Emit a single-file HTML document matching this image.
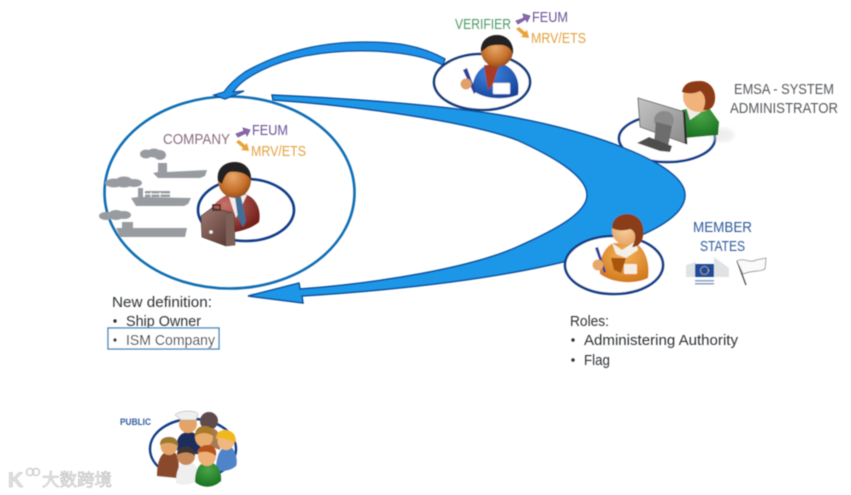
<!DOCTYPE html>
<html><head><meta charset="utf-8"><style>
html,body{margin:0;padding:0;background:#fff;width:851px;height:495px;overflow:hidden}
svg{display:block;font-family:"Liberation Sans","Noto Sans CJK SC",sans-serif}
text{font-size:15px}
</style></head><body>
<svg width="851" height="495" viewBox="0 0 851 495" xmlns="http://www.w3.org/2000/svg">
<defs>
<radialGradient id="skin" cx=".45" cy=".4" r=".7"><stop offset="0" stop-color="#e8a868"/><stop offset=".6" stop-color="#c56f2b"/><stop offset="1" stop-color="#7c3f14"/></radialGradient>
<radialGradient id="skinL" cx=".45" cy=".45" r=".7"><stop offset="0" stop-color="#f8cfa0"/><stop offset="1" stop-color="#e29a58"/></radialGradient>
<radialGradient id="blue" cx=".4" cy=".3" r=".8"><stop offset="0" stop-color="#3f86e0"/><stop offset="1" stop-color="#123f96"/></radialGradient>
<radialGradient id="maroon" cx=".35" cy=".3" r=".8"><stop offset="0" stop-color="#c8736a"/><stop offset="1" stop-color="#6a1412"/></radialGradient>
<radialGradient id="green" cx=".5" cy=".3" r=".8"><stop offset="0" stop-color="#4aa648"/><stop offset="1" stop-color="#146b1c"/></radialGradient>
<radialGradient id="orange" cx=".5" cy=".3" r=".8"><stop offset="0" stop-color="#f4b25a"/><stop offset="1" stop-color="#cf7212"/></radialGradient>
<linearGradient id="case" x1="0" y1="0" x2="1" y2="1"><stop offset="0" stop-color="#a07a72"/><stop offset="1" stop-color="#4f3029"/></linearGradient>
<linearGradient id="screen" x1="0" y1="0" x2="1" y2="1"><stop offset="0" stop-color="#c4c4c4"/><stop offset="1" stop-color="#8a8a8a"/></linearGradient>
<filter id="s"><feGaussianBlur stdDeviation=".4"/></filter>
<filter id="b2"><feGaussianBlur stdDeviation="2"/></filter>
</defs>
<rect width="851" height="495" fill="#fff"/>
<g filter="url(#s)">

<!-- ellipses -->
<ellipse cx="229.500" cy="192.500" rx="125" ry="96" fill="none" stroke="#0f6db4" stroke-width="2.600"/>
<ellipse cx="246" cy="210" rx="48" ry="31" fill="none" stroke="#103a86" stroke-width="2.600"/>

<!-- verifier arrow -->
<path d="M445 59 C420 45 395 42 365 42 C320 42 280 52 245 72 C235 79 228 86 224 92 L214 95 L225 99 L244 91 L233 92 C240 82 250 76 262 70 C295 54 335 50 372 51 C400 52 425 56 443 65 Z" fill="#1c90e6" stroke="#0d4f9f" stroke-width="1.300"/>
<ellipse cx="482" cy="82" rx="48" ry="28" fill="#fff" stroke="#103a7c" stroke-width="2.600"/>
<ellipse cx="667" cy="138.500" rx="48" ry="23.500" fill="#fff" stroke="#103a86" stroke-width="2.600"/>

<!-- large crescent arrow -->
<path d="M272 95 C340 98 450 105 517 118 C600 134 685 165 685 195 C685 220 640 240 563 262 C480 282 380 291 302 296 L303 303 L248 296 L299 283 L300 289 C380 283 470 268 517 247 C560 228 587 212 587 195 C587 175 550 155 517 140 C470 122 360 106 273 100 Z" fill="#1b97e8" stroke="#0d4f9f" stroke-width="1.500" stroke-linejoin="miter"/>

<ellipse cx="614" cy="265" rx="49" ry="29" fill="#fff" stroke="#103a86" stroke-width="2.600"/>

<!-- company labels -->
<text x="163" y="144" fill="#8a6c7e" textLength="67" lengthAdjust="spacingAndGlyphs">COMPANY</text>
<text x="252" y="135" fill="#6a5296" textLength="36" lengthAdjust="spacingAndGlyphs">FEUM</text>
<text x="251" y="156" fill="#e2a140" textLength="55" lengthAdjust="spacingAndGlyphs">MRV/ETS</text>
<path d="M236 134 L244 131 L243 128 L250 130 L247 136 L246 133 L238 137 Z" fill="#8d69ab" stroke="#6a5296" stroke-width=".8"/>
<path d="M236 142 L239 140 L245 145 L247 143 L249 151 L241 150 L243 148 Z" fill="#e8a33c"/>

<!-- ships -->
<g fill="#989ca1">
<path d="M158 172 L158 163 L167 163 L167 172 L207 170 L205 176 L200 178 L158 178 L153 173 Z"/>
<ellipse cx="146" cy="154" rx="6" ry="4.500"/><ellipse cx="154" cy="153" rx="7" ry="4.500"/><ellipse cx="160" cy="155" rx="6" ry="5"/>
<path d="M138 197 L138 188 L143 188 L143 197 L191 198 L188 204 L184 206 L136 206 L131 198 Z"/>
<path d="M145 191 L170 191 L170 197 L145 197 Z"/>
<ellipse cx="114" cy="183" rx="9" ry="4.500"/><ellipse cx="124" cy="182" rx="9" ry="5.500"/><ellipse cx="134" cy="183" rx="8" ry="4"/>
<path d="M122 228 L122 222 L133 222 L133 228 L187 228 L185 237 L120 237 L116 228 Z"/>
<ellipse cx="106" cy="216" rx="7" ry="4"/><ellipse cx="116" cy="215" rx="8" ry="5"/><ellipse cx="124" cy="215" rx="7" ry="4"/>
</g>
<path d="M151 192V197M160 192V197M143 194H170" stroke="#fff" stroke-width=".9"/>

<!-- company person -->
<path d="M206 232 C204 208 222 193 238 193 C254 193 262 208 259 222 C250 230 228 236 206 232Z" fill="url(#maroon)"/>
<path d="M228 194 L236 218 L247 195 Z" fill="#f3ecea"/>
<path d="M235 197 L241 197 L246 221 L243 227 L238 218 Z" fill="#3f6f98"/>
<ellipse cx="234.500" cy="180" rx="16.500" ry="18" fill="url(#skin)"/>
<path d="M218 181 C216 168 225 162 235 162 C245 162 252 170 251 180 C247 173 238 171 230 172 C226 173 224 178 222 184 Z" fill="#222"/>
<path d="M201 216 L212 208 L234 213 L235 245 L226 246 L202 237 Z" fill="url(#case)" stroke="#3b2620" stroke-width=".6"/>
<path d="M226 215 L234 212 L235 245 L226 246 Z" fill="#7d6059"/>
<circle cx="211" cy="232" r="1.800" fill="#f0f0f0"/>
<rect x="213" y="205" width="7" height="5" fill="none" stroke="#3b2620" stroke-width="1.500"/>

<!-- verifier labels -->
<text x="455" y="29" fill="#4f9a64" textLength="56" lengthAdjust="spacingAndGlyphs">VERIFIER</text>
<text x="532" y="22" fill="#6a5296" textLength="36" lengthAdjust="spacingAndGlyphs">FEUM</text>
<text x="531" y="43" fill="#e2a140" textLength="55" lengthAdjust="spacingAndGlyphs">MRV/ETS</text>
<path d="M516 21 L524 18 L523 14 L530 16 L527 22 L526 19 L518 24 Z" fill="#8d69ab" stroke="#6a5296" stroke-width=".8"/>
<path d="M516 29 L519 27 L525 32 L527 30 L529 38 L521 37 L523 35 Z" fill="#e8a33c"/>

<!-- verifier person -->
<path d="M472 90 C473 72 484 63 497 63 C512 64 521 78 518 95 C505 100 485 100 472 90Z" fill="url(#blue)"/>
<path d="M484 65 L488 90 L493 84 L499 65 Z" fill="#a93a22"/>
<rect x="493" y="83" width="17" height="11" rx="1" fill="#fff" stroke="#ccd" stroke-width=".5"/>
<ellipse cx="497" cy="51" rx="16" ry="16" fill="url(#skin)"/>
<path d="M481 52 C480 41 488 35 497 35 C508 35 514 44 513 54 C510 47 505 44 497 45 C491 45 488 46 485 49 Z" fill="#222"/>
<path d="M463 70 L467 68 L476 92 L474 94 Z" fill="#2f3f9a"/>
<circle cx="466" cy="84" r="5.500" fill="#e0a068"/>

<!-- EMSA -->
<text x="734" y="94" fill="#55585c" textLength="100" lengthAdjust="spacingAndGlyphs">EMSA - SYSTEM</text>
<text x="730" y="113" fill="#55585c" textLength="108" lengthAdjust="spacingAndGlyphs">ADMINISTRATOR</text>
<ellipse cx="722" cy="135" rx="12" ry="7" fill="#ddd" opacity=".5" filter="url(#b2)"/>
<path d="M682 110 L707 105 L719 122 L718 135 L685 138 Z" fill="url(#green)"/>
<path d="M686 107 L706 106 L700 113 L690 120 Z" fill="#f0ede6"/>
<ellipse cx="699" cy="97" rx="16" ry="15" fill="#f2b27c"/>
<path d="M682 92 C684 82 692 81 701 81 C712 82 716 92 715 100 C714 108 709 111 703 110 C707 102 705 94 700 91 C694 94 688 94 682 92 Z" fill="#8c3a14"/>
<path d="M638 98 L685 112 L687 144 L640 127 Z" fill="url(#screen)" stroke="#555" stroke-width=".8"/>
<path d="M685 112 L687 144 L685 144 L683 111 Z" fill="#222"/>
<ellipse cx="664" cy="120" rx="10" ry="9" fill="#8b8b8b"/>
<path d="M656 122 L672 126 L668 147 L654 142 Z" fill="#6d6d6d"/>
<path d="M637 143 L649 137 L672 146 L670 152 L660 151 Z" fill="#4d4d4d"/>

<!-- member person -->
<path d="M600 274 C598 256 607 245 614 243 L636 243 C646 250 650 264 648 278 C634 285 612 283 600 274Z" fill="url(#orange)"/>
<path d="M612 243 L622 250 L636 241 L638 250 L626 258 L616 254 Z" fill="#f4f0e8"/>
<path d="M611 258 L626 258 L621 273 L614 270 Z" fill="#a8560f"/>
<rect x="624" y="264" width="13" height="10" rx="1" fill="#f6ece0"/>
<ellipse cx="626" cy="231" rx="14" ry="14" fill="url(#skinL)"/>
<path d="M612 228 C612 218 620 214 628 214 C640 215 645 225 643 236 C642 243 638 247 632 247 C637 238 636 231 630 229 C624 231 618 231 612 228 Z" fill="#8a3c14"/>
<path d="M595 248 L598 247 L606 272 L604 273 Z" fill="#2f3f9a"/>
<circle cx="598" cy="265" r="5.500" fill="#e8a868"/>

<!-- Member states -->
<text x="693" y="232" fill="#2f5a9c" textLength="59" lengthAdjust="spacingAndGlyphs">MEMBER</text>
<text x="700" y="251" fill="#2f5a9c" textLength="45" lengthAdjust="spacingAndGlyphs">STATES</text>
<path d="M686 265 L696 262 L696 277 L686 277 Z M714 257 L729 268 L729 277 L714 277Z" fill="#dfe3e6"/>
<rect x="695" y="264" width="19" height="13" fill="#1f4e9c"/>
<circle cx="704.500" cy="270.500" r="4" fill="none" stroke="#e8d060" stroke-width="1" stroke-dasharray="1 1"/>
<rect x="695" y="280" width="19" height="1.500" fill="#8aa0c4"/><rect x="695" y="283" width="19" height="1.500" fill="#8aa0c4"/>
<path d="M737 261 L746 285" stroke="#444" stroke-width="1.200"/>
<path d="M737 261 C744 257 750 264 756 260 L766 258 L765 269 C760 272 752 270 743 274 Z" fill="#fafafa" stroke="#8b8b8b" stroke-width=".8"/>

<!-- text lists -->
<text x="112" y="307" fill="#2e3236" textLength="100" lengthAdjust="spacingAndGlyphs">New definition:</text>
<circle cx="115" cy="321" r="1.700" fill="#2e3236"/>
<text x="126" y="326" fill="#2e3236" textLength="75" lengthAdjust="spacingAndGlyphs">Ship Owner</text>
<rect x="108" y="328" width="111" height="21" fill="#fff" stroke="#2f80bb" stroke-width="1.300"/>
<circle cx="115" cy="340" r="1.700" fill="#2e3236"/>
<text x="126" y="345" fill="#2e3236" textLength="89" lengthAdjust="spacingAndGlyphs">ISM Company</text>
<text x="570" y="326" fill="#2e3236" textLength="39" lengthAdjust="spacingAndGlyphs">Roles:</text>
<circle cx="573" cy="340" r="1.700" fill="#2e3236"/>
<text x="584" y="345" fill="#2e3236" textLength="154" lengthAdjust="spacingAndGlyphs">Administering Authority</text>
<circle cx="573" cy="360" r="1.700" fill="#2e3236"/>
<text x="584" y="365" fill="#2e3236" textLength="26" lengthAdjust="spacingAndGlyphs">Flag</text>

<!-- public -->
<text x="120" y="425" fill="#2f5a9c" font-weight="bold" style="font-size:9px" textLength="31" lengthAdjust="spacingAndGlyphs">PUBLIC</text>
<ellipse cx="193" cy="449" rx="43" ry="30" fill="none" stroke="#103a86" stroke-width="2.400"/>
<path d="M176 450 C176 436 182 432 189 432 C197 432 201 438 201 455 Z" fill="#1f2e5c"/>
<ellipse cx="188" cy="424" rx="9" ry="9" fill="#e4a468"/>
<path d="M175 415 C180 410 196 410 198 414 L196 420 L181 420 Z" fill="#eef0ee" stroke="#999" stroke-width=".5"/>
<ellipse cx="209" cy="421" rx="9" ry="9" fill="#5e4c48"/>
<path d="M198 442 C198 430 206 428 212 428 C220 430 222 440 220 450 Z" fill="#a77a58"/>
<ellipse cx="204" cy="437" rx="9" ry="10" fill="#e8ac6c"/>
<path d="M195 436 C195 428 200 426 205 426 C211 426 214 430 213 436 C208 432 200 432 195 436Z" fill="#a87a2c"/>
<path d="M216 470 C216 450 225 444 230 446 C236 450 238 462 236 466 C230 471 222 472 216 470Z" fill="#4f84c8"/>
<ellipse cx="226" cy="441" rx="8.500" ry="9" fill="#f0b880"/>
<path d="M216 439 C216 431 222 430 226 430 C233 431 236 435 236 442 L220 438 Z" fill="#f0b81c"/>
<path d="M157 476 C157 456 164 451 170 451 C178 451 180 460 178 478 Z" fill="#8a4a2c"/>
<ellipse cx="169" cy="446" rx="8.500" ry="9" fill="#e4a468"/>
<path d="M160 445 C160 438 165 437 170 437 C175 437 178 440 178 446 C172 442 166 442 160 445Z" fill="#9c7a30"/>
<path d="M176 483 C176 466 182 462 187 462 C197 462 199 470 198 480 C192 485 182 486 176 483Z" fill="#efefef"/>
<ellipse cx="186" cy="456" rx="9" ry="9" fill="#c98a5a"/>
<path d="M177 455 C177 448 182 447 186 447 C192 447 195 450 195 456 C190 451 182 452 177 455Z" fill="#3f3532"/>
<path d="M195 482 C195 466 202 462 208 462 C216 462 222 470 221 481 C212 489 202 488 195 482Z" fill="url(#green)"/>
<ellipse cx="207" cy="456" rx="9" ry="10" fill="#efb078"/>
<path d="M197 453 C198 447 203 445 208 445 C214 445 217 450 216 456 C210 451 204 451 197 453Z" fill="#b4521c"/>

<!-- watermark -->
<text x="8" y="487" fill="#e0e0e0" stroke="#bdbdbd" stroke-width=".5" style="font-size:21px;font-weight:bold">K</text>
<circle cx="30" cy="472" r="3.500" fill="none" stroke="#cfcfcf" stroke-width="1.500"/>
<circle cx="36" cy="472" r="3.500" fill="none" stroke="#cfcfcf" stroke-width="1.500"/>
<text x="42" y="486" fill="#ececec" stroke="#b5b5b5" stroke-width=".5" style="font-size:17.500px" textLength="70">大数跨境</text>
</g>
</svg>
</body></html>
